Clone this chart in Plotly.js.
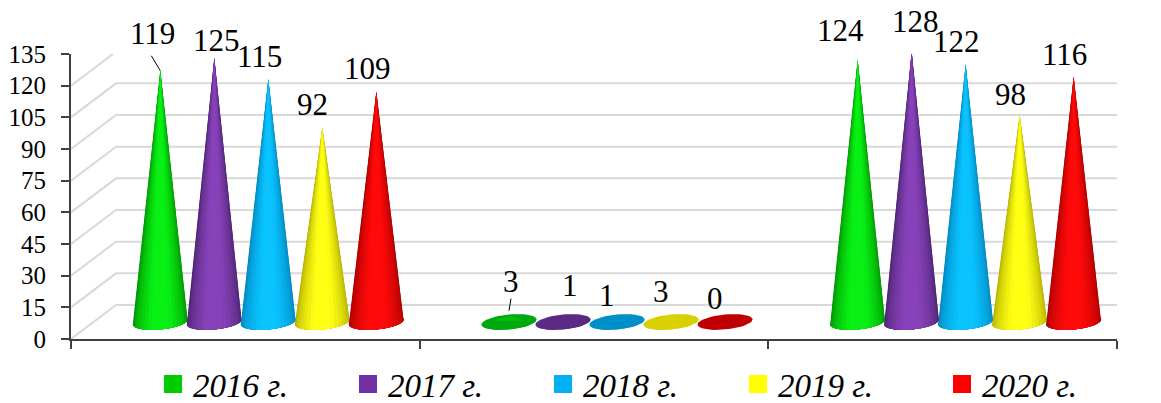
<!DOCTYPE html>
<html><head><meta charset="utf-8">
<script src="https://cdn.plot.ly/plotly-3.0.1.min.js"></script>
<style>html,body{margin:0;padding:0;background:#fff;overflow:hidden}#c{width:1161px;height:403px}</style>
</head><body><div id="c"></div>
<script>
const categories = ["", "", ""];
const seriesNames = ["2016 г.", "2017 г.", "2018 г.", "2019 г.", "2020 г."];
const values2016 = [119, 3, 124];
const values2017 = [125, 1, 128];
const values2018 = [115, 1, 122];
const values2019 = [92, 3, 98];
const values2020 = [109, 0, 116];
const allValues = [values2016, values2017, values2018, values2019, values2020];
const yTicks = [0, 15, 30, 45, 60, 75, 90, 105, 120, 135];

const legendColors = ["#00CC00", "#7030A0", "#00B0F0", "#FFFF00", "#FF0000"];
const legendLeft = [153, 348, 543, 738, 942];
const edgeColors = [[0,140,0],[72,34,108],[0,130,185],[175,170,0],[165,0,0]];
const midColors = [[8,240,20],[135,65,185],[10,195,255],[255,255,20],[255,10,10]];
const baseColors = ["#00A810", "#5A2A85", "#0090C8", "#D8D000", "#C00000"];
// label offsets from the cone tip (px), per series then per category
const labelDx = [[-8,2,-17],[2,7,4],[-9,-10,-9],[-10,-10,-9],[-9,-10,-9]];
const labelDy = [[-37,-34,-30],[-18,-34,-30],[-23,-24,-23],[-23,-24,-21],[-23,-24,-23]];

const W = 1046, H = 285, PX = 3 / W, PY = 135 / H;
const depthX = 45 * PX, depthY = 34 * PY;
const midDepthX = 23 * PX, midDepthY = 17 * PY;
const gap = 54 * PX, rx = 27.5 * PX, ry = 7.5 * PY, tilt = 2.5 * PY;
const traces = [];

function line(x, y, color, width) {
  traces.push({x, y, type: "scatter", mode: "lines", cliponaxis: false, hoverinfo: "skip",
    showlegend: false, line: {color, width, simplify: false}});
}
function poly(x, y, color) {
  traces.push({x, y, type: "scatter", mode: "lines", fill: "toself", fillcolor: color, cliponaxis: false,
    hoverinfo: "skip", showlegend: false, line: {width: 0, color}});
}
const rgb = c => `rgb(${c.map(v => Math.round(v)).join(",")})`;

yTicks.forEach(t => line([0, depthX, 3 + depthX], [t, t + depthY, t + depthY], "#d9d9d9", 2));
line([3, 3 + depthX], [0, depthY], "#a6a6a6", 2);

const layers = 10;
categories.forEach((cat, c) => {
  allValues.forEach((vals, s) => {
    const cx = c + 0.5 + midDepthX + (s - 2) * gap, v = vals[c];
    const ex = [], ey = [];
    for (let i = 0; i <= 48; i++) {
      const a = i / 48 * 2 * Math.PI;
      ex.push(cx + rx * Math.cos(a));
      ey.push(midDepthY + ry * -Math.sin(a) + tilt * Math.cos(a));
    }
    poly(ex, ey, baseColors[s]);
    if (v <= 0) return;
    const flat = v < 10;
    for (let k = 0; k < (flat ? 1 : layers); k++) {
      const f = k / layers;
      const a0 = f * Math.PI / 2;
      const x = [cx], y = [midDepthY + v];
      for (let i = 0; i <= 24; i++) {
        const a = a0 + (Math.PI - 2 * a0) * i / 24;
        x.push(cx + rx * Math.cos(a));
        y.push(midDepthY - ry * Math.sin(a) + tilt * Math.cos(a));
      }
      const m = flat ? 0.3 : Math.min(1, Math.pow(f / 0.75, 0.9));
      poly(x, y, flat ? baseColors[s] : rgb(edgeColors[s].map((e, i) => e + (midColors[s][i] - e) * m)));
    }
    if (flat) {
      const x = [cx], y = [midDepthY + v];
      for (let i = 0; i <= 24; i++) {
        const a = Math.PI * 0.3 + Math.PI * 0.4 * i / 24;
        x.push(cx + rx * Math.cos(a));
        y.push(midDepthY + ry * Math.sin(a) * 0.2);
      }
      poly(x, y, rgb(edgeColors[s].map((e, i) => e + (midColors[s][i] - e) * 0.5)));
    }
  });
});

// leader lines
line([0.5 + midDepthX - 2 * gap - 9 * PX, 0.5 + midDepthX - 2 * gap], [values2016[0] + midDepthY + 15 * PY, values2016[0] + midDepthY], "#000", 1);
line([1.5 + midDepthX - 2 * gap + 2 * PX, 1.5 + midDepthX - 2 * gap], [values2016[1] + midDepthY + 17 * PY, values2016[1] + midDepthY + 5 * PY], "#000", 1);

const legends = {};
seriesNames.forEach((name, s) => {
  const key = s === 0 ? "legend" : "legend" + (s + 1);
  traces.push({x: [null], y: [null], type: "scatter", mode: "markers", name, legend: key, showlegend: true,
    hoverinfo: "skip", marker: {symbol: "square", size: 16, color: legendColors[s], line: {width: 2, color: legendColors[s]}}});
  legends[key] = {x: (legendLeft[s] - 71) / W, y: -45 / H, xanchor: "left", yanchor: "middle",
    itemwidth: 30, bgcolor: "rgba(0,0,0,0)", borderwidth: 0,
    font: {family: "Liberation Serif", size: 33, style: "italic", color: "#000"}};
});

const annotations = [];
allValues.forEach((vals, s) => vals.forEach((v, c) => annotations.push({
  x: c + 0.5 + midDepthX + (s - 2) * gap, y: v, xref: "x", yref: "y", text: String(v), showarrow: false,
  xshift: labelDx[s][c], yshift: -labelDy[s][c] + 17, xanchor: "center", yanchor: "middle",
  font: {family: "Liberation Serif", size: 31, color: "#000"}})));

Plotly.newPlot("c", traces, Object.assign({
  width: 1161, height: 403, margin: {l: 71, r: 44, t: 54, b: 64, autoexpand: false},
  paper_bgcolor: "#fff", plot_bgcolor: "#fff",
  font: {family: "Liberation Serif", color: "#000"},
  xaxis: {range: [0, 3], tickvals: [0, 1, 2, 3], ticktext: ["", "", "", ""], ticks: "outside", ticklen: 8, tickwidth: 2,
    tickcolor: "#404040", showgrid: false, zeroline: false, showline: true, linecolor: "#404040", linewidth: 2, fixedrange: true},
  yaxis: {range: [0, 135], tickvals: yTicks, ticks: "outside", ticklen: 8, tickwidth: 2, tickcolor: "#404040",
    ticklabelstandoff: 10, tickfont: {family: "Liberation Serif", size: 25, color: "#000"},
    showgrid: false, zeroline: false, showline: true, linecolor: "#404040", linewidth: 2, fixedrange: true},
  showlegend: true,
  annotations
}, legends), {staticPlot: true, displayModeBar: false});
</script></body></html>
